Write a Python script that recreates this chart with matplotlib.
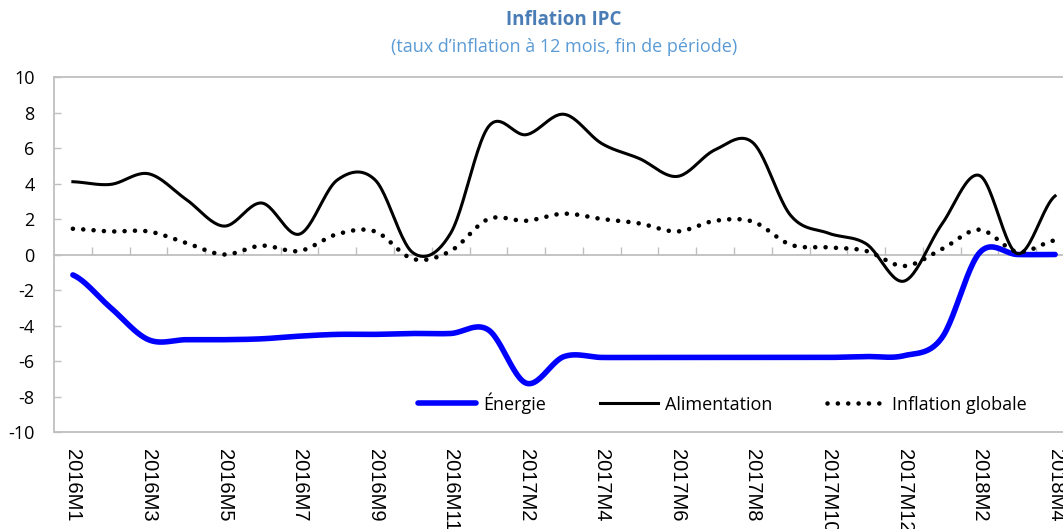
import numpy as np
import matplotlib
matplotlib.use("Agg")
import matplotlib.pyplot as plt

plt.rcParams['font.family'] = ['Open Sans', 'DejaVu Sans']
plt.rcParams['axes.unicode_minus'] = False

# categories as shown on the axis (the source series has no 2017M1)
months = (["2016M%d" % m for m in range(1, 13)]
          + ["2017M%d" % m for m in range(2, 13)]
          + ["2018M%d" % m for m in range(1, 5)])

energie = [-1.15, -3.0, -4.8, -4.8, -4.8, -4.75, -4.6, -4.5, -4.5, -4.45, -4.45,
           -4.25, -7.25, -5.75, -5.8, -5.8, -5.8, -5.8, -5.8, -5.8, -5.8, -5.75,
           -5.7, -4.7, 0.1, 0.0, 0.0]
alimentation = [4.1, 3.95, 4.55, 3.1, 1.6, 2.9, 1.15, 4.2, 4.2, 0.1, 1.2, 7.2,
                6.75, 7.9, 6.25, 5.4, 4.4, 5.9, 6.3, 2.2, 1.2, 0.6, -1.5, 1.7,
                4.45, 0.05, 3.3]
inflation = [1.45, 1.3, 1.3, 0.65, 0.0, 0.5, 0.2, 1.15, 1.3, -0.25, 0.2, 2.0,
             1.9, 2.3, 2.0, 1.75, 1.3, 1.9, 1.85, 0.55, 0.4, 0.2, -0.65, 0.3,
             1.4, 0.15, 0.8]

series_names = ["Énergie", "Alimentation", "Inflation globale"]
yticks = list(range(-10, 11, 2))

GRAY = '#bfbfbf'


def smooth(values, n=24):
  """Catmull-Rom curve through the points, like the smoothed lines of a spreadsheet."""
  v = np.asarray(values, float)
  p = np.concatenate([[v[0]], v, [v[-1]]])
  t = np.linspace(0, 1, n, endpoint=False)
  xs, ys = [], []
  for i in range(len(v) - 1):
    p0, p1, p2, p3 = p[i], p[i + 1], p[i + 2], p[i + 3]
    m1, m2 = (p2 - p0) / 2, (p3 - p1) / 2
    h = ((2 * t**3 - 3 * t**2 + 1) * p1 + (t**3 - 2 * t**2 + t) * m1
         + (-2 * t**3 + 3 * t**2) * p2 + (t**3 - t**2) * m2)
    xs.append(i + t)
    ys.append(h)
  xs.append([len(v) - 1])
  ys.append([v[-1]])
  return np.concatenate(xs), np.concatenate(ys)


fig = plt.figure(figsize=(10.63, 5.29), dpi=100)
ax = fig.add_axes([54 / 1063, 1 - 432 / 529, 1020 / 1063, 355 / 529])

x, y = smooth(energie)
ax.plot(x, y, color='#0000ff', lw=4, solid_capstyle='round', label=series_names[0])
x, y = smooth(alimentation)
ax.plot(x, y, color='black', lw=2.2, label=series_names[1])
x, y = smooth(inflation)
ax.plot(x, y, color='black', lw=3.3, linestyle=(0, (0.01, 2.25)),
        dash_capstyle='round', label=series_names[2])

ax.set_xlim(-0.5, len(months) - 0.5)
ax.set_ylim(-10, 10)

# horizontal axis crosses at 0, ticks between categories
ax.spines['bottom'].set_position(('data', 0))
ax.spines['bottom'].set_zorder(0)
ax.set_xticks(np.arange(0.5, len(months) - 0.5, 1))
ax.tick_params(axis='x', direction='in', length=6, width=1, color=GRAY,
               labelbottom=False)
for s in ['bottom', 'left', 'top']:
  ax.spines[s].set_color(GRAY)
  ax.spines[s].set_linewidth(1.3)
ax.spines['right'].set_visible(False)

ax.set_yticks(yticks)
ax.tick_params(axis='y', direction='in', length=5, width=1, color=GRAY,
               labelsize=13, pad=14)

# labels at the bottom of the plot area
sec = ax.secondary_xaxis('bottom')
sec.set_xticks(range(0, len(months), 2), labels=months[::2])
sec.tick_params(length=0, pad=12, labelrotation=-90, labelsize=14.5)
for lab in sec.get_xticklabels():
  lab.set_family(['Liberation Sans', 'DejaVu Sans'])
sec.spines['bottom'].set_color(GRAY)
sec.spines['bottom'].set_linewidth(1.3)

ax.legend(loc='center', bbox_to_anchor=(0.655, 0.082), ncol=3, frameon=False,
          fontsize=13, handlelength=3.2, handletextpad=0.4, columnspacing=3.0)

cx = (54 + 1074) / 2 / 1063
fig.text(cx, 1 - 20 / 529, "Inflation IPC", ha='center', va='center',
         fontsize=13.5, fontweight='bold', color='#4a7db5')
fig.text(cx, 1 - 47 / 529, "(taux d\u2019inflation à 12 mois, fin de période)",
         ha='center', va='center', fontsize=13, color='#5b9bd5')

fig.savefig('out.png', dpi=100)
